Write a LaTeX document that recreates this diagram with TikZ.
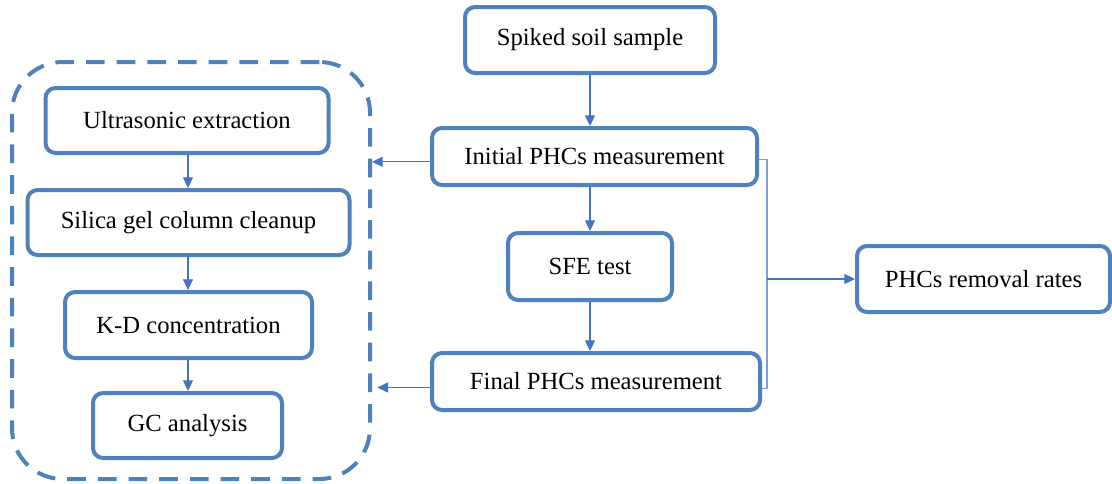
\documentclass[tikz,border=0pt]{standalone}
\usepackage{fontspec}
\setmainfont{Liberation Serif}
\newfontfamily\tnr{Liberation Serif}
\usetikzlibrary{arrows.meta,calc}
\definecolor{boxblue}{HTML}{4F81BD}
\definecolor{arrblue}{HTML}{4472C4}
\definecolor{lineblue}{HTML}{7F9FD8}
\begin{document}
\begin{tikzpicture}[x=0.75pt,y=-0.75pt,
  stepbox/.style={draw=boxblue,line width=3pt,rounded corners=7.5pt,inner sep=0pt,
     font=\tnr\fontsize{18.5}{22}\selectfont,text=black},
  groupbox/.style={draw=boxblue,line width=3pt,rounded corners=38pt,dash pattern=on 14pt off 9pt,inner sep=0pt},
  conn/.style={draw=arrblue,line width=0.8pt,-{Triangle[length=8pt,width=7.5pt]}},
  plain/.style={draw=lineblue,line width=0.8pt}]
\useasboundingbox (0,0) rectangle (1112,483);
% dashed group
\node[groupbox,minimum width=268.5pt,minimum height=312.75pt] (grp) at (191,270.5) {};
% left chain
\node[stepbox,minimum width=212.25pt,minimum height=48.75pt] (ultra) at (187,120.5) {Ultrasonic extraction};
\node[stepbox,minimum width=241.5pt,minimum height=48.75pt] (silica) at (188.5,222.5) {Silica gel column cleanup};
\node[stepbox,minimum width=185.25pt,minimum height=49.5pt] (kd) at (188.5,325) {K-D concentration};
\node[stepbox,minimum width=141.75pt,minimum height=48.75pt] (gc) at (187.5,425.5) {GC analysis};
\coordinate (lc) at (188,0);
% right chain
\node[stepbox,minimum width=187.5pt,minimum height=49.5pt] (spiked) at (590,40) {Spiked soil sample};
\node[stepbox,minimum width=243.75pt,minimum height=42.75pt] (init) at (594.5,156.5) {Initial PHCs measurement};
\node[stepbox,minimum width=123pt,minimum height=50.25pt] (sfe) at (590,266.5) {SFE test};
\node[stepbox,minimum width=246pt,minimum height=42.75pt] (final) at (596,381.5) {Final PHCs measurement};
\node[stepbox,minimum width=189.75pt,minimum height=49.5pt] (rem) at (983.5,279) {PHCs removal rates};
% connectors
\draw[conn] (lc |- ultra.south) -- (lc |- silica.north);
\draw[conn] (lc |- silica.south) -- (lc |- kd.north);
\draw[conn] (lc |- kd.south) -- (lc |- gc.north);
\draw[conn] (spiked.south) -- (spiked.south |- init.north);
\draw[conn] (sfe.north |- init.south) -- (sfe.north);
\draw[conn] (sfe.south) -- (sfe.south |- final.north);
\draw[conn] ([yshift=-4pt]init.west) -- ([yshift=-4pt]init.west -| grp.east);
\draw[conn] ([yshift=-4.5pt]final.west) -- ([yshift=-4.5pt,xshift=4pt]final.west -| grp.east);
\coordinate (bx) at (767,279);
\draw[plain] ([yshift=-2.5pt]init.east) -| (bx) |- ([yshift=-5pt]final.east);
\draw[conn] (bx) -- (rem.west);
\end{tikzpicture}
\end{document}
